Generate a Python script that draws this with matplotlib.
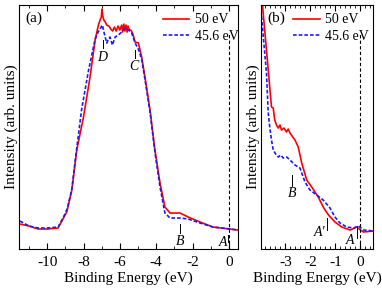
import matplotlib
matplotlib.use("Agg")
import matplotlib.pyplot as plt
from matplotlib.ticker import MultipleLocator

plt.rcParams["font.family"] = ["Liberation Serif", "DejaVu Serif"]
plt.rcParams["font.size"] = 11
plt.rcParams["axes.unicode_minus"] = False

# ------------------------------------------------------------------
# Data (intensity in arbitrary units)
# ------------------------------------------------------------------
# panel (a): full valence band
a_red_e = [-11.5, -11.0, -10.5, -10.0, -9.4, -9.1, -8.92, -8.64, -8.37, -8.0,
           -7.64, -7.36, -7.18, -7.09, -7.02, -6.98, -6.94, -6.88, -6.8, -6.72,
           -6.6, -6.5, -6.4, -6.3, -6.2, -6.1, -6.0, -5.9, -5.85, -5.78,
           -5.72, -5.66, -5.6, -5.55, -5.48, -5.4, -5.3, -5.16, -4.98, -4.8,
           -4.62, -4.34, -4.07, -3.79, -3.52, -3.24, -2.69, -2.24, -1.59, -0.88,
           0.05, 0.5]
a_red_i = [25, 23, 20, 20, 21, 31, 37, 59, 99, 132,
           172, 209, 224, 229, 232, 240, 233, 229, 227, 224,
           223, 220, 218, 222, 218, 223, 219, 224, 217, 225,
           218, 224, 217, 223, 219, 219, 216, 207, 206, 192,
           172, 139, 99, 66, 42, 36, 36, 32, 27, 22,
           20, 19]

a_blue_e = [-11.5, -11.3, -11.0, -10.5, -10.0, -9.4, -9.1, -8.9, -8.64, -8.46,
            -8.1, -7.73, -7.36, -7.2, -7.09, -6.96, -6.85, -6.72, -6.63, -6.54,
            -6.41, -6.26, -6.08, -5.9, -5.71, -5.53, -5.35, -5.16, -4.98, -4.8,
            -4.62, -4.34, -4.07, -3.79, -3.52, -3.24, -2.69, -2.24, -1.59, -0.88,
            0.05, 0.5]
a_blue_i = [28, 26, 23, 21, 21, 22, 32, 40, 60, 88,
            140, 178, 210, 217, 220, 224, 215, 206, 210, 212,
            204, 212, 214, 217, 221, 219, 216, 206, 200, 190,
            170, 137, 97, 62, 36, 31, 31, 30, 26, 22,
            20, 19]

# panel (b): near the Fermi level
b_red_e = [-3.92, -3.76, -3.63, -3.56, -3.49, -3.43, -3.36, -3.29, -3.22, -3.16,
           -3.06, -2.96, -2.89, -2.82, -2.62, -2.49, -2.35, -2.15, -1.95, -1.69,
           -1.49, -1.28, -1.02, -0.75, -0.41, -0.15, 0.0, 0.12, 0.52]
b_red_i = [244, 199, 162, 142, 141, 129, 124, 121, 124, 119,
           121, 117, 120, 116, 109, 102, 86, 69, 62, 52,
           42, 34, 27, 22, 19, 22, 19, 17, 18]

b_blue_e = [-4.0, -3.9, -3.76, -3.69, -3.63, -3.56, -3.49, -3.39, -3.29, -3.19,
            -3.09, -2.95, -2.82, -2.62, -2.42, -2.22, -2.02, -1.75, -1.49, -1.22,
            -1.02, -0.82, -0.55, -0.28, -0.08, 0.12, 0.52]
b_blue_i = [244, 216, 176, 136, 122, 109, 99, 95, 92, 94,
            91, 92, 89, 84, 81, 67, 59, 54, 49, 41,
            32, 26, 22, 21, 23, 19, 18]

legend_labels = ["50 eV", "45.6 eV"]

# marker labels: (text, tick x, tick y0, tick y1, text x, text y)
a_marks = [("D", -6.95, 201, 209, -6.95, 192),
           ("C", -5.16, 191, 199, -5.25, 183),
           ("B", -2.69, 16, 25, -2.69, 8),
           ("A", -0.05, 7, 14, -0.35, 7)]
b_marks = [("B", -2.72, 63, 74, -2.72, 56),
           ("A'", -1.33, 19, 31, -1.62, 17),
           ("A", -0.12, 11, 23, -0.4, 9)]

RED = "#ff0000"
BLUE = "#1a1aff"
DASH = (0, (2.2, 1.2))


def style_axis(ax, xlim, major, minor):
    ax.set_xlim(*xlim)
    ax.set_ylim(0, 244)
    ax.xaxis.set_major_locator(MultipleLocator(major))
    ax.xaxis.set_minor_locator(MultipleLocator(minor))
    ax.tick_params(axis="x", which="both", direction="in", top=True, pad=5)
    ax.tick_params(axis="x", which="major", length=4)
    ax.tick_params(axis="x", which="minor", length=2)
    ax.tick_params(axis="y", left=False, labelleft=False)
    ax.set_xlabel("Binding Energy (eV)", labelpad=2)
    ax.set_ylabel("Intensity (arb. units)", labelpad=1)
    ax.axvline(0, ymin=0, ymax=216 / 244, color="black", lw=0.8, ls=(0, (3, 2)))


def add_marks(ax, marks):
    for txt, tx, y0, y1, lx, ly in marks:
        ax.plot([tx, tx], [y0, y1], color="black", lw=0.7)
        ax.text(lx, ly, txt, style="italic", fontsize=10, ha="center", va="center")


fig = plt.figure(figsize=(3.82, 2.88), dpi=100)
ax_a = fig.add_axes([0.0497, 0.1354, 0.5733, 0.847])
ax_b = fig.add_axes([0.6832, 0.1354, 0.2932, 0.847])

ax_a.plot(a_red_e, a_red_i, color=RED, lw=1.2, label=legend_labels[0])
ax_a.plot(a_blue_e, a_blue_i, color=BLUE, lw=1.2, ls=DASH, label=legend_labels[1])
style_axis(ax_a, (-11.55, 0.5), 2, 1)
add_marks(ax_a, a_marks)
ax_a.text(0.03, 0.945, "(a)", transform=ax_a.transAxes, va="center")
ax_a.legend(loc="upper right", frameon=False, fontsize=10, handlelength=1.9,
            handletextpad=0.4, labelspacing=0.25, borderaxespad=0.2,
            bbox_to_anchor=(1.04, 1.0))

ax_b.plot(b_red_e, b_red_i, color=RED, lw=1.2, label=legend_labels[0])
ax_b.plot(b_blue_e, b_blue_i, color=BLUE, lw=1.2, ls=DASH, label=legend_labels[1])
style_axis(ax_b, (-3.98, 0.5), 1, 0.2)
add_marks(ax_b, b_marks)
ax_b.text(0.06, 0.945, "(b)", transform=ax_b.transAxes, va="center")
ax_b.legend(loc="upper right", frameon=False, fontsize=10, handlelength=1.9,
            handletextpad=0.4, labelspacing=0.25, borderaxespad=0.2,
            bbox_to_anchor=(1.04, 1.0))

fig.savefig("out.png", dpi=100)
